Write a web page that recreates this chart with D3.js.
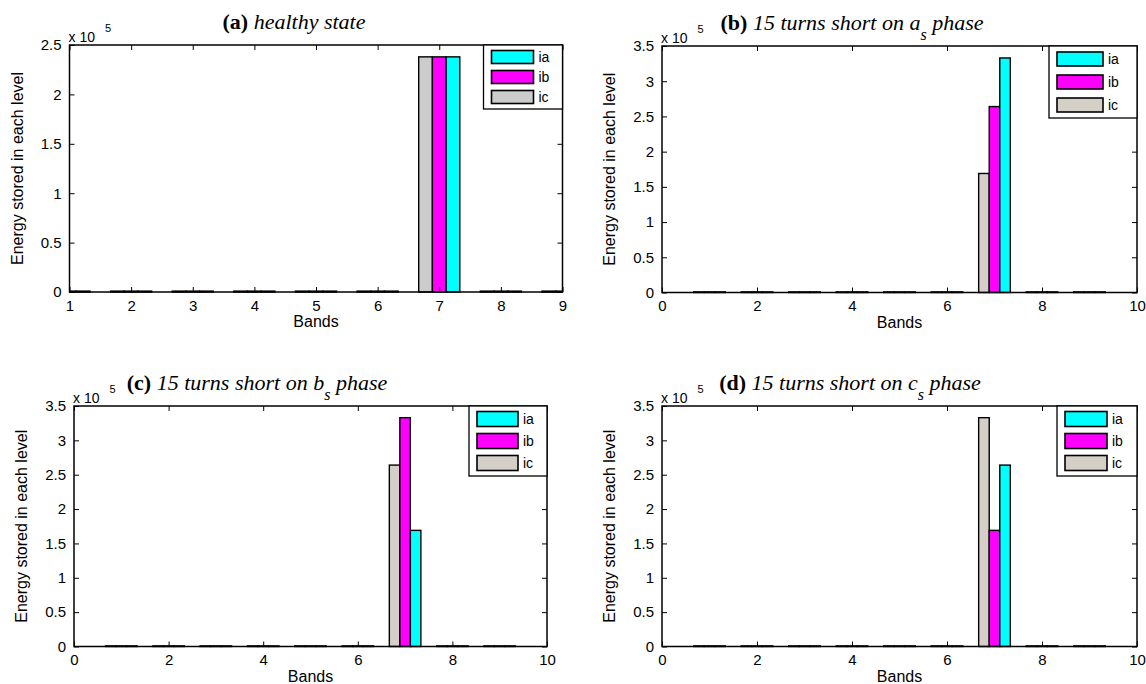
<!DOCTYPE html>
<html>
<head>
<meta charset="utf-8">
<script src="https://cdn.jsdelivr.net/npm/d3@7"></script>
<style>
  html, body { margin: 0; padding: 0; background: #fff; }
  svg { display: block; }
  text { font-family: "Liberation Sans", Arial, sans-serif; fill: #000; }
  .ttl { font-family: "Liberation Serif", "Times New Roman", serif; }
</style>
</head>
<body>
<svg id="fig" width="1146" height="684"></svg>
<script>
// Wavelet band energies of the three stator currents, nine bands
const bands = [1, 2, 3, 4, 5, 6, 7, 8, 9];
const seriesNames = ["ia", "ib", "ic"];

// (a) healthy state
const healthyIa = [900, 900, 900, 900, 900, 900, 238000, 900, 900];
const healthyIb = [900, 900, 900, 900, 900, 900, 238000, 900, 900];
const healthyIc = [900, 900, 900, 900, 900, 900, 238000, 900, 900];

// (b) 15 turns short on a_s phase
const shortAIa = [900, 900, 900, 900, 900, 900, 333000, 900, 900];
const shortAIb = [900, 900, 900, 900, 900, 900, 264000, 900, 900];
const shortAIc = [900, 900, 900, 900, 900, 900, 169000, 900, 900];

// (c) 15 turns short on b_s phase
const shortBIa = [900, 900, 900, 900, 900, 900, 169000, 900, 900];
const shortBIb = [900, 900, 900, 900, 900, 900, 333000, 900, 900];
const shortBIc = [900, 900, 900, 900, 900, 900, 264000, 900, 900];

// (d) 15 turns short on c_s phase
const shortCIa = [900, 900, 900, 900, 900, 900, 264000, 900, 900];
const shortCIb = [900, 900, 900, 900, 900, 900, 169000, 900, 900];
const shortCIc = [900, 900, 900, 900, 900, 900, 333000, 900, 900];

// Axis ticks
const xTicksA = [1, 2, 3, 4, 5, 6, 7, 8, 9];
const xTicksOther = [0, 2, 4, 6, 8, 10];
const yTicksA = [0, 50000, 100000, 150000, 200000, 250000];
const yTicksOther = [0, 50000, 100000, 150000, 200000, 250000, 300000, 350000];

const panels = [
  { tag: "(a)", text: [" healthy state"], sub: null,
    ia: healthyIa, ib: healthyIb, ic: healthyIc,
    xDomain: [1, 9], yDomain: [0, 250000], xTicks: xTicksA, yTicks: yTicksA,
    box: { l: 69.5, r: 562.5, t: 45, b: 292 }, titleX: 294, icColor: "#cccccc",
    legend: { w: 79, first: 12, step: 20, sw: 42, sh: 13 } },
  { tag: "(b)", text: [" 15 turns short on a", " phase"], sub: "s",
    ia: shortAIa, ib: shortAIb, ic: shortAIc,
    xDomain: [0, 10], yDomain: [0, 350000], xTicks: xTicksOther, yTicks: yTicksOther,
    box: { l: 662, r: 1137, t: 46, b: 292.5 }, titleX: 852, icColor: "#d4d0c8",
    legend: { w: 88, first: 13, step: 23, sw: 46, sh: 14 } },
  { tag: "(c)", text: [" 15 turns short on b", "  phase"], sub: "s",
    ia: shortBIa, ib: shortBIb, ic: shortBIc,
    xDomain: [0, 10], yDomain: [0, 350000], xTicks: xTicksOther, yTicks: yTicksOther,
    box: { l: 74, r: 547, t: 406, b: 646.5 }, titleX: 257, icColor: "#d4d0c8",
    legend: { w: 78, first: 13, step: 22, sw: 41, sh: 15 } },
  { tag: "(d)", text: [" 15 turns short on c", " phase"], sub: "s",
    ia: shortCIa, ib: shortCIb, ic: shortCIc,
    xDomain: [0, 10], yDomain: [0, 350000], xTicks: xTicksOther, yTicks: yTicksOther,
    box: { l: 662, r: 1137, t: 406, b: 646.5 }, titleX: 850, icColor: "#d4d0c8",
    legend: { w: 80, first: 13, step: 22, sw: 42, sh: 15 } }
];

const svg = d3.select("#fig");
const groupWidth = 2 / 3;            // three adjacent bars per band
const barW = groupWidth / 3;

panels.forEach((p, i) => {
  const B = p.box;
  const x = d3.scaleLinear().domain(p.xDomain).range([B.l, B.r]);
  const y = d3.scaleLinear().domain(p.yDomain).range([B.b, B.t]);
  const g = svg.append("g");
  const colors = { ia: "#00ffff", ib: "#ff00ff", ic: p.icColor };

  const clipId = "clip" + i;
  svg.append("clipPath").attr("id", clipId)
    .append("rect").attr("x", B.l).attr("y", B.t - 2).attr("width", B.r - B.l).attr("height", B.b - B.t + 4);

  // bars: ic left, ib centre, ia right
  const order = [["ic", -1], ["ib", 0], ["ia", 1]];
  const barsG = g.append("g").attr("clip-path", `url(#${clipId})`);
  order.forEach(([key, off]) => {
    barsG.selectAll(null)
      .data(bands.map((b, k) => ({ b, v: p[key][k] })))
      .join("rect")
      .attr("x", d => x(d.b + off * barW - barW / 2))
      .attr("width", d => x(d.b + barW / 2) - x(d.b - barW / 2))
      .attr("y", d => y(d.v))
      .attr("height", d => y(0) - y(d.v))
      .attr("fill", colors[key])
      .attr("stroke", "#000")
      .attr("stroke-width", 1.4);
  });

  // axes with inward ticks on all four sides
  const tickLen = 5;
  const axB = d3.axisBottom(x).tickValues(p.xTicks).tickSize(-tickLen).tickPadding(8).tickFormat(d3.format("d"));
  const axT = d3.axisTop(x).tickValues(p.xTicks).tickSize(-tickLen).tickFormat("");
  const axL = d3.axisLeft(y).tickValues(p.yTicks).tickSize(-tickLen).tickPadding(8)
    .tickFormat(v => d3.format("~g")(v / 100000));
  const axR = d3.axisRight(y).tickValues(p.yTicks).tickSize(-tickLen).tickFormat("");

  const styleAxis = sel => {
    sel.select(".domain").remove();
    sel.selectAll(".tick line").attr("stroke", "#000").attr("stroke-width", 1);
    sel.selectAll("text").attr("font-size", 15).attr("font-family", "Liberation Sans, Arial, sans-serif").attr("fill", "#000");
  };
  g.append("g").attr("transform", `translate(0,${B.b})`).call(axB).call(styleAxis);
  g.append("g").attr("transform", `translate(0,${B.t})`).call(axT).call(styleAxis);
  g.append("g").attr("transform", `translate(${B.l},0)`).call(axL).call(styleAxis);
  g.append("g").attr("transform", `translate(${B.r},0)`).call(axR).call(styleAxis);

  g.append("rect")
    .attr("x", B.l).attr("y", B.t).attr("width", B.r - B.l).attr("height", B.b - B.t)
    .attr("fill", "none").attr("stroke", "#000").attr("stroke-width", 1.5);

  // exponent label
  const ex = g.append("text").attr("x", B.l - 1).attr("y", B.t - 3).attr("font-size", 14);
  ex.append("tspan").text("x 10");
  ex.append("tspan").attr("dx", 10).attr("dy", -10).attr("font-size", 11).text("5");

  // axis titles
  g.append("text")
    .attr("x", (B.l + B.r) / 2).attr("y", B.b + 35)
    .attr("text-anchor", "middle").attr("font-size", 16).text("Bands");
  g.append("text")
    .attr("transform", `translate(${B.l - 47},${(B.t + B.b) / 2}) rotate(-90)`)
    .attr("text-anchor", "middle").attr("font-size", 16).text("Energy stored in each level");

  // panel title
  const t = g.append("text").attr("class", "ttl")
    .attr("x", p.titleX).attr("y", B.t - 16).attr("text-anchor", "middle").attr("font-size", 22);
  t.append("tspan").attr("font-weight", "bold").text(p.tag);
  t.append("tspan").attr("font-style", "italic").text(p.text[0]);
  if (p.sub) {
    t.append("tspan").attr("font-style", "italic").attr("font-size", 16).attr("dy", 10).text(p.sub);
    t.append("tspan").attr("font-style", "italic").attr("dy", -10).text(p.text[1]);
  }

  // legend
  const L = p.legend;
  const lh = L.first * 2 + L.step * 2;
  const lg = g.append("g").attr("transform", `translate(${B.r - L.w},${B.t})`);
  lg.append("rect").attr("width", L.w).attr("height", lh)
    .attr("fill", "#fff").attr("stroke", "#000").attr("stroke-width", 1.3);
  seriesNames.forEach((name, k) => {
    const cy = L.first + k * L.step;
    lg.append("rect").attr("x", 8).attr("y", cy - L.sh / 2).attr("width", L.sw).attr("height", L.sh)
      .attr("fill", colors[name]).attr("stroke", "#000").attr("stroke-width", 1.6);
    lg.append("text").attr("x", 8 + L.sw + 5).attr("y", cy + 5).attr("font-size", 14).text(name);
  });
});
</script>
</body>
</html>
